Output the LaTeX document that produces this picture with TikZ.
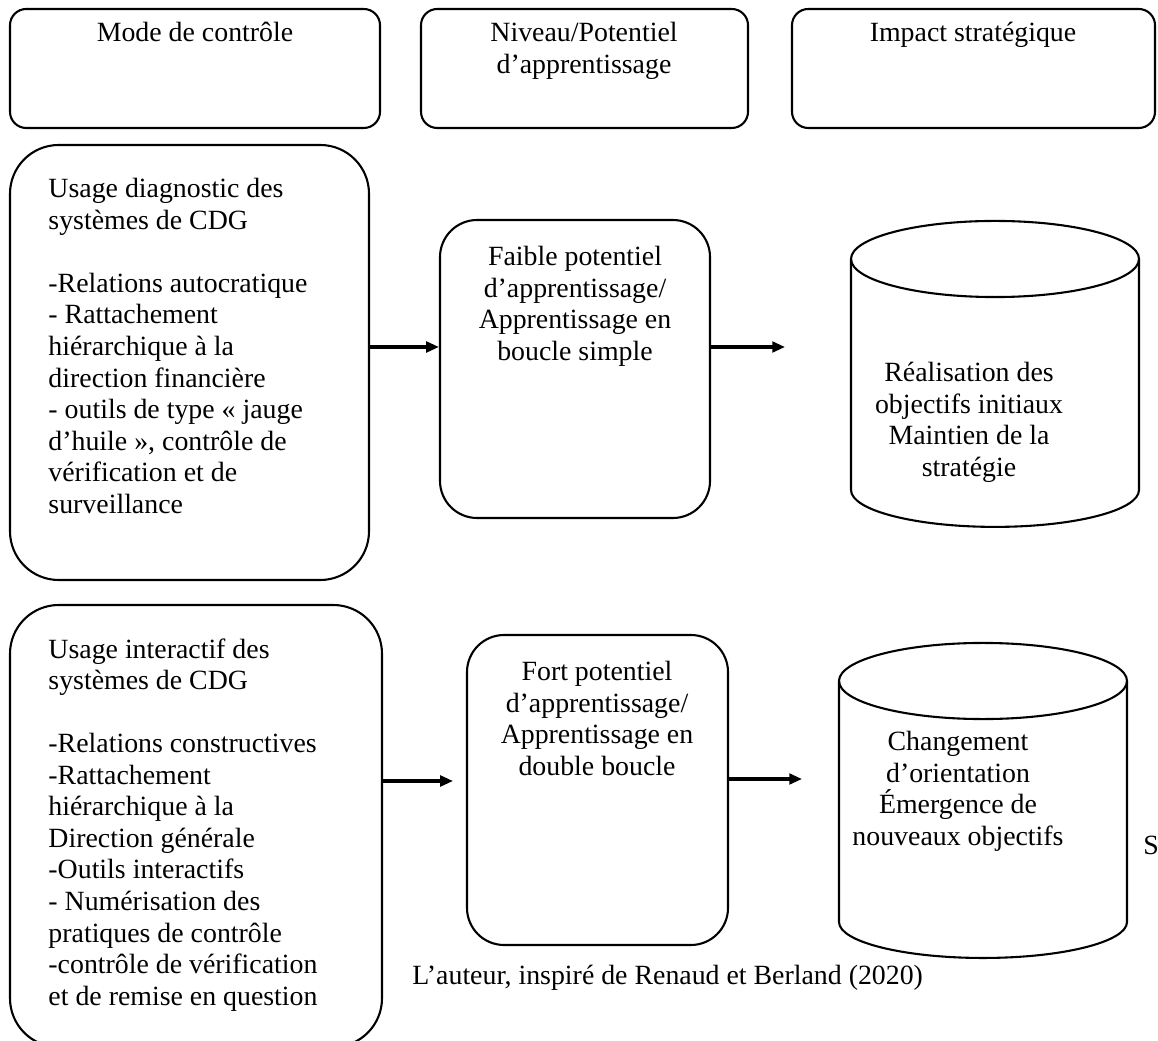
\documentclass[tikz,border=0pt]{standalone}
\usepackage{fontspec}
\setmainfont{Liberation Serif}
\usepackage{tikz}
\usetikzlibrary{arrows.meta,positioning,calc,fit}

\begin{document}
\begin{tikzpicture}[x=0.431pt,y=-0.431pt,
    hd/.style={draw,line width=0.9pt,rounded corners=7pt,inner sep=0pt},
    usage/.style={draw,line width=0.9pt,rounded corners=21pt,inner sep=0pt},
    lvl/.style={draw,line width=0.9pt,rounded corners=16pt,inner sep=0pt},
    cyl/.style={line width=0.9pt},
    t/.style={inner sep=0pt,font=\fontsize{12pt}{13.6pt}\selectfont},
    lt/.style={t,anchor=north west,align=left},
    ct/.style={t,anchor=north,align=center},
    a/.style={-{Triangle[length=5.5pt,width=4.6pt]},line width=1.3pt}]
  \useasboundingbox (0,0) rectangle (1158,1041);
  % column heads
  \node[hd,fit={(10,9)(380,128)}] (mode) {};
  \node[ct] (modet) at (195,22) {Mode de contrôle};
  \node[hd,fit={(421,9)(748,128)}] (niveau) {};
  \node[ct] (niveaut) at (584,22) {Niveau/Potentiel\\d’apprentissage};
  \node[hd,fit={(792,9)(1155,128)}] (impact) {};
  \node[ct] (impactt) at (973,22) {Impact stratégique};
  % diagnostic use
  \node[usage,fit={(10,145)(369,580)}] (diag) {};
  \node[lt] (diagt) at (48,178) {Usage diagnostic des\\systèmes de CDG\\[13.6pt]
    -Relations autocratique\\- Rattachement\\hiérarchique à la\\direction financière\\
    - outils de type « jauge\\d’huile », contrôle de\\vérification et de\\surveillance};
  \node[lvl,fit={(440,220)(710,518)}] (faible) {};
  \node[ct] (faiblet) at (575,246) {Faible potentiel\\d’apprentissage/\\Apprentissage en\\boucle simple};
  \draw[cyl] (851,259) -- (851,490) arc[start angle=180,end angle=360,x radius=62.06pt,y radius=15.9pt] -- (1139,259);
  \draw[cyl] (995,259) ellipse[x radius=62.06pt,y radius=16.4pt];
  \node[ct] (maintien) at (969,362) {Réalisation des\\objectifs initiaux\\Maintien de la\\stratégie};
  % interactive use
  \node[usage,fit={(10,605)(382,1047)}] (inter) {};
  \node[lt] (intert) at (48,638) {Usage interactif des\\systèmes de CDG\\[13.6pt]
    -Relations constructives\\-Rattachement\\hiérarchique à la\\Direction générale\\
    -Outils interactifs\\- Numérisation des\\pratiques de contrôle\\-contrôle de vérification\\
    et de remise en question};
  \node[lvl,fit={(467,635)(728,945)}] (fort) {};
  \node[ct] (fortt) at (597,661) {Fort potentiel\\d’apprentissage/\\Apprentissage en\\double boucle};
  \draw[cyl] (839,681) -- (839,922) arc[start angle=180,end angle=360,x radius=62.06pt,y radius=15.5pt] -- (1127,681);
  \draw[cyl] (983,681) ellipse[x radius=62.06pt,y radius=16.4pt];
  \node[ct] (changement) at (958,731) {Changement\\d’orientation\\Émergence de\\nouveaux objectifs};
  % arrows
  \coordinate (row1) at (0,347);
  \coordinate (row2) at (0,781);
  \coordinate (row2b) at (0,779);
  \coordinate (end1) at (785,347);
  \coordinate (mid2) at (453,781);
  \coordinate (end2) at (802,779);
  \draw[a] (diag.east |- row1) -- (faible.west |- row1);
  \draw[a] (faible.east |- row1) -- (end1);
  \draw[a] (inter.east |- row2) -- (mid2);
  \draw[a] (fort.east |- row2b) -- (end2);
  % source
  \node[t,anchor=west] (source) at (412,978) {L’auteur, inspiré de Renaud et Berland (2020)};
  \node[t,anchor=west] (s) at (1143,845) {S};
\end{tikzpicture}
\end{document}
